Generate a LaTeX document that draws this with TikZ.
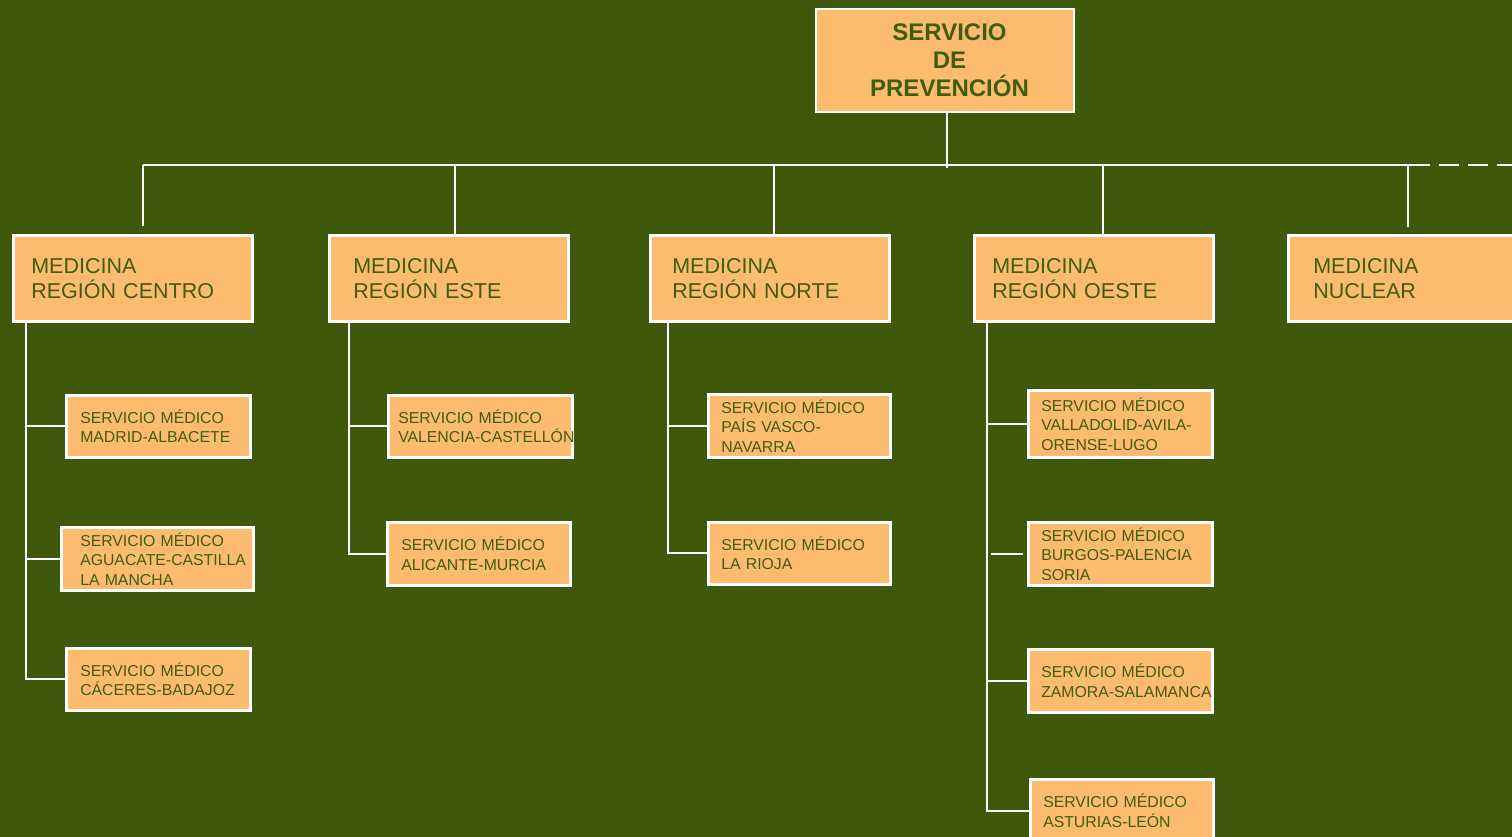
\documentclass[tikz,border=0pt]{standalone}
\usepackage{fontspec}
\setmainfont{Liberation Sans}
\exhyphenpenalty=10000
\hyphenpenalty=10000
\definecolor{bgc}{RGB}{62,88,12}
\definecolor{boxc}{RGB}{253,187,111}
\definecolor{txtc}{RGB}{60,94,14}
\newcommand{\tpad}{\hspace*{9pt}}
\tikzset{
  boxbase/.style={rectangle, draw=white, line width=2.5pt, fill=boxc, text=txtc, anchor=north west, align=left, inner ysep=0pt},
  topbox/.style={rectangle, draw=white, line width=2.5pt, fill=boxc, text=txtc, align=center,
    font=\fontsize{24}{28}\selectfont\bfseries, minimum width=258pt, minimum height=103pt},
  regbox/.style={boxbase, font=\fontsize{21.5}{25}\selectfont, minimum height=86pt},
  srvbox/.style={boxbase, font=\fontsize{15.8}{19.5}\selectfont},
  conn/.style={draw=white, line width=2.2pt},
}
\begin{document}
\begin{tikzpicture}[x=1pt,y=-1pt]
\useasboundingbox (0,0) rectangle (1512,837);
\clip (0,0) rectangle (1512,837);
\fill[bgc] (0,0) rectangle (1512,837);

% top
\node[topbox] (top) at (945,60.5) {\tpad SERVICIO\\\tpad DE\\\tpad PREVENCIÓN};

% level 2
\node[regbox, text width=203pt, inner xsep=18pt] (centro) at (12,234) {MEDICINA\\REGIÓN CENTRO};
\node[regbox, text width=191pt, inner xsep=24pt] (este) at (328,234) {MEDICINA\\REGIÓN ESTE};
\node[regbox, text width=195pt, inner xsep=22pt] (norte) at (649,234) {MEDICINA\\REGIÓN NORTE};
\node[regbox, text width=203pt, inner xsep=18pt] (oeste) at (973,234) {MEDICINA\\REGIÓN OESTE};
\node[regbox, text width=191pt, inner xsep=25pt] (nuclear) at (1287,234) {MEDICINA\\NUCLEAR};

% level 3
\node[srvbox, text width=156pt, inner xsep=14pt, minimum height=62pt] (madrid) at (65,394) {SERVICIO MÉDICO\\MADRID-ALBACETE};
\node[srvbox, text width=154pt, inner xsep=19pt, minimum height=63pt] (aguacate) at (60,526) {SERVICIO MÉDICO\\AGUACATE-CASTILLA\\LA MANCHA};
\node[srvbox, text width=156pt, inner xsep=14pt, minimum height=62pt] (caceres) at (65,647) {SERVICIO MÉDICO\\CÁCERES-BADAJOZ};

\node[srvbox, text width=164pt, inner xsep=10pt, minimum height=62pt] (valencia) at (387,394) {SERVICIO MÉDICO\\VALENCIA-CASTELLÓN};
\node[srvbox, text width=155pt, inner xsep=14pt, minimum height=63pt] (alicante) at (386,521) {SERVICIO MÉDICO\\ALICANTE-MURCIA};

\node[srvbox, text width=156pt, inner xsep=13pt, minimum height=63pt] (vasco) at (707,393) {SERVICIO MÉDICO\\PAÍS VASCO-\\NAVARRA};
\node[srvbox, text width=156pt, inner xsep=13pt, minimum height=62pt] (rioja) at (707,521) {SERVICIO MÉDICO\\LA RIOJA};

\node[srvbox, text width=158pt, inner xsep=13pt, minimum height=67pt] (valladolid) at (1027,389) {SERVICIO MÉDICO\\VALLADOLID-AVILA-\\ORENSE-LUGO};
\node[srvbox, text width=158pt, inner xsep=13pt, minimum height=63pt] (burgos) at (1027,521) {SERVICIO MÉDICO\\BURGOS-PALENCIA\\SORIA};
\node[srvbox, text width=158pt, inner xsep=13pt, minimum height=63pt] (zamora) at (1027,648) {SERVICIO MÉDICO\\ZAMORA-SALAMANCA};
\node[srvbox, text width=157pt, inner xsep=13pt, minimum height=63pt] (asturias) at (1029,778) {SERVICIO MÉDICO\\ASTURIAS-LEÓN};

% bus
\coordinate (busL) at (143,165);
\coordinate (busR) at (1430,165);
\coordinate (busEnd) at (1512,165);
\coordinate (bE) at (455,165);
\coordinate (bN) at (774,165);
\coordinate (bO) at (1103,165);
\coordinate (bX) at (1408,165);
\coordinate (dropC) at (143,226);
\coordinate (dropX) at (1408,227);
\coordinate (bT) at (947,165);

\draw[conn] (bT |- top.south) -- (bT) -- ++(0,3);
\draw[conn] (busL) -- (busR);
\draw[conn, dash pattern=on 20pt off 9pt, dash phase=20pt] (busR) -- (busEnd);
\draw[conn] (busL) -- (dropC);
\draw[conn] (bE) -- (bE |- este.north);
\draw[conn] (bN) -- (bN |- norte.north);
\draw[conn] (bO) -- (bO |- oeste.north);
\draw[conn] (bX) -- (dropX);

% trunks
\coordinate (tC) at (26,0);
\coordinate (tE) at (349,0);
\coordinate (tN) at (668,0);
\coordinate (tO) at (987,0);

\draw[conn] (tC |- centro.south) -- (tC |- caceres.west) -- (caceres.west);
\draw[conn] (tC |- madrid.west) -- (madrid.west);
\draw[conn] (tC |- aguacate.west) -- (aguacate.west);

\draw[conn] (tE |- este.south) -- (tE |- alicante.west) -- (alicante.west);
\draw[conn] (tE |- valencia.west) -- (valencia.west);

\draw[conn] (tN |- norte.south) -- (tN |- rioja.west) -- (rioja.west);
\draw[conn] (tN |- vasco.west) -- (vasco.west);

\draw[conn] (tO |- oeste.south) -- (tO |- asturias.west) -- (asturias.west);
\draw[conn] (tO |- valladolid.west) -- (valladolid.west);
\draw[conn] (tO |- zamora.west) -- (zamora.west);
\draw[conn] ([xshift=-4pt]burgos.west) -- ([xshift=-36pt]burgos.west);
\end{tikzpicture}
\end{document}
